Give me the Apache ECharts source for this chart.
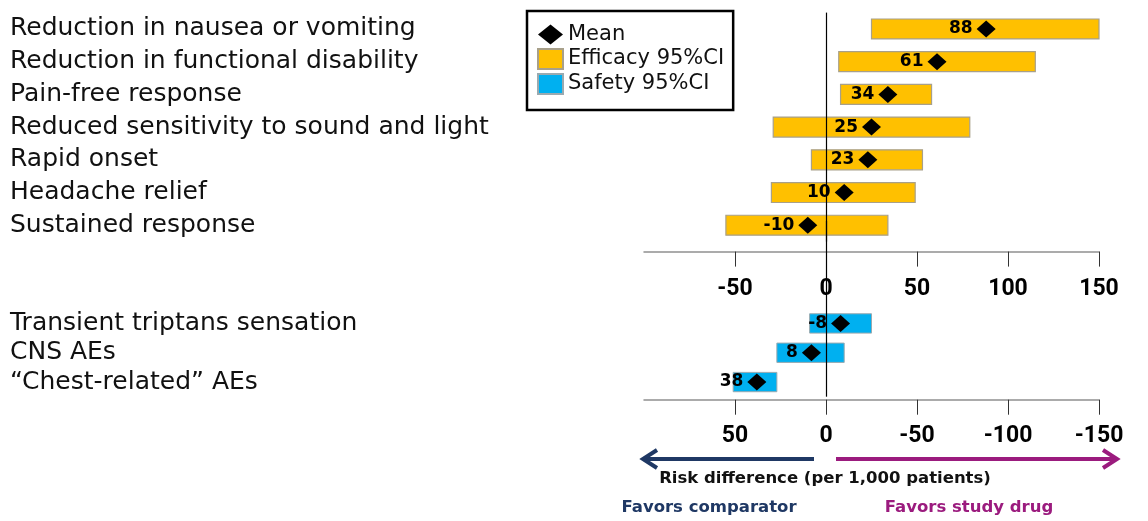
<!DOCTYPE html>
<html>
<head>
<meta charset="utf-8">
<script src="https://cdn.jsdelivr.net/npm/echarts@6/dist/echarts.min.js"></script>
<style>
html,body{margin:0;padding:0;background:#fff;}
#chart{width:1148px;height:521px;}
</style>
</head>
<body>
<div id="chart"></div>
<script>
// ---- Data ----
var efficacyCategories = [
  'Reduction in nausea or vomiting',
  'Reduction in functional disability',
  'Pain-free response',
  'Reduced sensitivity to sound and light',
  'Rapid onset',
  'Headache relief',
  'Sustained response'
];
var efficacyMean = [88, 61, 34, 25, 23, 10, -10];
var efficacyLow  = [25, 7, 8, -29, -8, -30, -55];
var efficacyHigh = [150, 115, 58, 79, 53, 49, 34];

var safetyCategories = [
  'Transient triptans sensation',
  'CNS AEs',
  '\u201cChest-related\u201d AEs'
];
var safetyMean = [-8, 8, 38];
var safetyLow  = [-25, -10, 27];
var safetyHigh = [9, 27, 51];

var efficacyTicks = [-50, 0, 50, 100, 150];
var safetyTicks = [50, 0, -50, -100, -150];

// ---- Build ----
var blankPad = [' ', '  ', '   '];
var safetyAxisCats = blankPad.concat(safetyCategories);
var pad = blankPad.length;

var effBars = efficacyCategories.map(function (c, i) { return [i, efficacyLow[i], efficacyHigh[i]]; });
var effPts = efficacyCategories.map(function (c, i) { return [efficacyMean[i], i]; });
var safBars = safetyCategories.map(function (c, i) { return [i + pad, safetyLow[i], safetyHigh[i]]; });
var safPts = safetyCategories.map(function (c, i) { return [safetyMean[i], i + pad]; });

function makeRender(ratio) {
  return function (params, api) {
    var cat = api.value(0);
    var lo = api.coord([api.value(1), cat]);
    var hi = api.coord([api.value(2), cat]);
    var h = api.size([0, 1])[1] * ratio;
    return {
      type: 'rect',
      shape: { x: Math.min(lo[0], hi[0]), y: lo[1] - h / 2, width: Math.abs(hi[0] - lo[0]), height: h },
      style: api.style()
    };
  };
}

var labelFont = 'DejaVu Sans';
var tickFont = 'Roboto';
var zeroLine = {
  silent: true, symbol: 'none', label: { show: false },
  lineStyle: { color: '#000', width: 1.2, type: 'solid' },
  data: [{ xAxis: 0 }]
};
var meanLabel = {
  show: true, position: 'left', distance: 4,
  fontFamily: labelFont, fontWeight: 'bold', fontSize: 17, color: '#000',
  formatter: function (p) { return String(p.value[0]); }
};

var chart = echarts.init(document.getElementById('chart'), null, { renderer: 'canvas' });
chart.setOption({
  animation: false,
  backgroundColor: '#fff',
  legend: {
    orient: 'vertical',
    left: 527, top: 11,
    padding: [13, 9, 15, 10],
    itemGap: 3,
    itemWidth: 25, itemHeight: 20,
    borderColor: '#000', borderWidth: 2.5,
    textStyle: { fontFamily: labelFont, fontSize: 21, color: '#111' },
    data: [
      { name: 'Mean', icon: 'diamond', itemStyle: { color: '#000', opacity: 1 } },
      { name: 'Efficacy 95%CI', icon: 'rect' },
      { name: 'Safety 95%CI', icon: 'rect' }
    ]
  },
  grid: [
    { left: 644, right: 49, top: 12.6, height: 229 },
    { left: 644, right: 49, top: 220.9, height: 175.8 }
  ],
  xAxis: [
    {
      gridIndex: 0, type: 'value', min: -100, max: 150, offset: 10,
      axisLine: { show: true, lineStyle: { color: '#909090', width: 1.5 } },
      axisTick: { show: true, length: 15, customValues: efficacyTicks, lineStyle: { color: '#333', width: 1 } },
      axisLabel: { customValues: efficacyTicks, margin: 26, fontFamily: tickFont, fontWeight: 'bold', fontSize: 23, color: '#000' },
      splitLine: { show: false }
    },
    {
      gridIndex: 1, type: 'value', min: -150, max: 100, inverse: true, offset: 3,
      axisLine: { show: true, lineStyle: { color: '#909090', width: 1.5 } },
      axisTick: { show: true, length: 15, customValues: safetyTicks, lineStyle: { color: '#333', width: 1 } },
      axisLabel: { customValues: safetyTicks, margin: 25, fontFamily: tickFont, fontWeight: 'bold', fontSize: 23, color: '#000' },
      splitLine: { show: false }
    }
  ],
  yAxis: [
    {
      gridIndex: 0, type: 'category', inverse: true, data: efficacyCategories,
      axisLine: { show: false }, axisTick: { show: false },
      axisLabel: { interval: 0, align: 'left', margin: 634, fontFamily: labelFont, fontSize: 25, color: '#111' }
    },
    {
      gridIndex: 1, type: 'category', inverse: true, data: safetyAxisCats,
      axisLine: { show: false }, axisTick: { show: false },
      axisLabel: { interval: 0, align: 'left', margin: 634, fontFamily: labelFont, fontSize: 25, color: '#111' }
    }
  ],
  series: [
    {
      name: 'Efficacy 95%CI', type: 'custom', xAxisIndex: 0, yAxisIndex: 0,
      renderItem: makeRender(0.61),
      encode: { x: [1, 2], y: 0 },
      itemStyle: { color: '#FFC000', borderColor: '#a8a08a', borderWidth: 1.2 },
      data: effBars,
      markLine: zeroLine,
      z: 2
    },
    {
      name: 'Safety 95%CI', type: 'custom', xAxisIndex: 1, yAxisIndex: 1,
      renderItem: makeRender(0.66),
      encode: { x: [1, 2], y: 0 },
      itemStyle: { color: '#00B0F0', borderColor: '#9aaab0', borderWidth: 1 },
      data: safBars,
      markLine: zeroLine,
      z: 2
    },
    {
      name: 'Mean', type: 'scatter', xAxisIndex: 0, yAxisIndex: 0,
      symbol: 'diamond', symbolSize: [19, 17],
      itemStyle: { color: '#000', opacity: 1 },
      label: meanLabel,
      data: effPts, z: 5
    },
    {
      name: 'Mean', type: 'scatter', xAxisIndex: 1, yAxisIndex: 1,
      symbol: 'diamond', symbolSize: [19, 17],
      itemStyle: { color: '#000', opacity: 1 },
      label: meanLabel,
      data: safPts, z: 5
    }
  ],
  graphic: [
    { type: 'line', shape: { x1: 814, y1: 459, x2: 644, y2: 459 }, style: { stroke: '#1F3864', lineWidth: 4 } },
    { type: 'polyline', shape: { points: [[657, 450], [643, 459], [657, 468]] }, style: { stroke: '#1F3864', lineWidth: 4, fill: null } },
    { type: 'line', shape: { x1: 836, y1: 459, x2: 1116, y2: 459 }, style: { stroke: '#9B1B7E', lineWidth: 4 } },
    { type: 'polyline', shape: { points: [[1103, 450], [1117, 459], [1103, 468]] }, style: { stroke: '#9B1B7E', lineWidth: 4, fill: null } },
    { type: 'text', x: 825, y: 479, style: { text: 'Risk difference (per 1,000 patients)', fill: '#111', font: 'bold 16.5px "DejaVu Sans"', align: 'center', verticalAlign: 'middle' } },
    { type: 'text', x: 709, y: 508, style: { text: 'Favors comparator', fill: '#1F3864', font: 'bold 16.5px "DejaVu Sans"', align: 'center', verticalAlign: 'middle' } },
    { type: 'text', x: 969, y: 508, style: { text: 'Favors study drug', fill: '#9B1B7E', font: 'bold 16.5px "DejaVu Sans"', align: 'center', verticalAlign: 'middle' } }
  ]
});
</script>
</body>
</html>
